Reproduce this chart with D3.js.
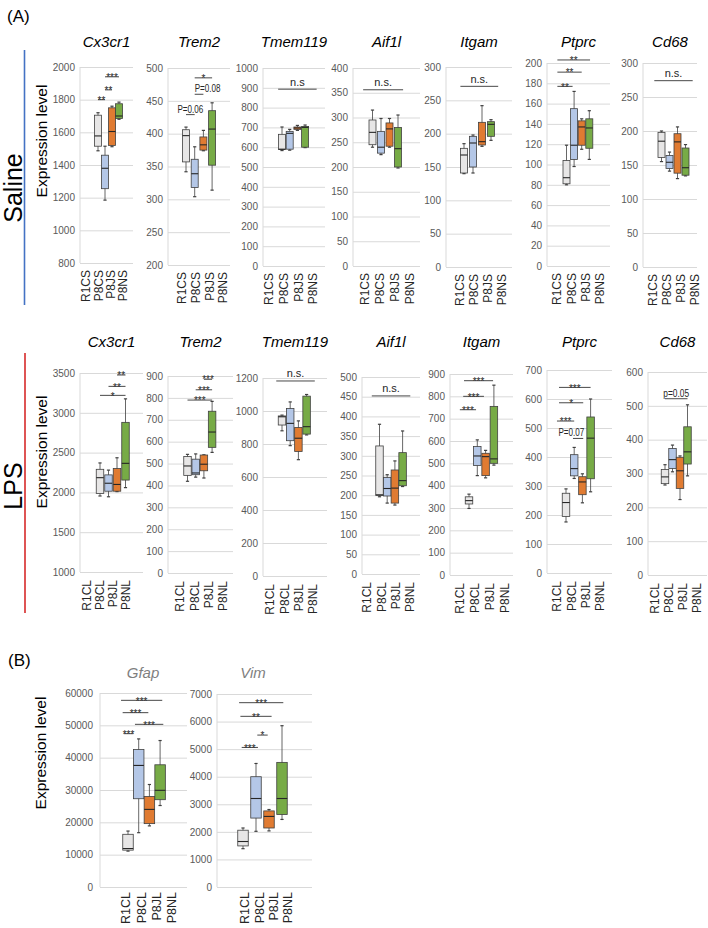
<!DOCTYPE html>
<html>
<head>
<meta charset="utf-8">
<script src="https://cdn.jsdelivr.net/npm/d3@7"></script>
<style>
  body { margin: 0; background: #fff; }
  svg { display: block; font-family: "Liberation Sans", Arial, sans-serif; }
</style>
</head>
<body>
<svg id="fig" width="708" height="928"></svg>
<script>
// ---- data ----
const salineGroups = ["R1CS", "P8CS", "P8JS", "P8NS"];
const lpsGroups = ["R1CL", "P8CL", "P8JL", "P8NL"];
const genesA = ["Cx3cr1", "Trem2", "Tmem119", "Aif1l", "Itgam", "Ptprc", "Cd68"];
const genesB = ["Gfap", "Vim"];

// box stats per group: [min, q1, median, q3, max]
const salineCx3cr1 = [[1487, 1515, 1578, 1705, 1720], [1185, 1255, 1380, 1460, 1515], [1512, 1520, 1605, 1750, 1760], [1680, 1685, 1700, 1775, 1785]];
const salineTrem2 = [[342, 357, 397, 406, 410], [304, 318, 339, 361, 380], [374, 375, 383, 395, 405], [314, 352, 407, 435, 447]];
const salineTmem119 = [[583, 588, 590, 665, 702], [585, 590, 670, 680, 690], [685, 690, 697, 702, 710], [598, 600, 700, 705, 712]];
const salineAif1l = [[240, 245, 270, 295, 315], [225, 228, 240, 272, 298], [240, 242, 277, 289, 298], [198, 200, 237, 280, 305]];
const salineItgam = [[140, 141, 168, 178, 185], [141, 150, 186, 196, 198], [181, 183, 188, 217, 242], [190, 196, 214, 218, 221]];
const salinePtprc = [[80, 81, 87, 104, 119], [98, 105, 119, 155, 172], [115, 119, 137, 143, 145], [105, 116, 136, 145, 153]];
const salineCd68 = [[155, 161, 185, 198, 200], [141, 145, 154, 164, 169], [130, 138, 184, 196, 206], [134, 135, 146, 175, 180]];

const lpsCx3cr1 = [[1955, 1985, 2185, 2290, 2370], [1945, 2015, 2115, 2220, 2280], [2010, 2015, 2100, 2300, 2435], [2060, 2155, 2365, 2880, 3175]];
const lpsTrem2 = [[419, 446, 489, 532, 542], [438, 449, 457, 520, 544], [434, 467, 497, 539, 540], [551, 574, 644, 739, 784]];
const lpsTmem119 = [[880, 915, 965, 970, 975], [790, 820, 925, 1015, 1055], [705, 755, 835, 900, 940], [855, 860, 905, 1090, 1100]];
const lpsAif1l = [[196, 199, 201, 325, 380], [180, 198, 217, 245, 252], [175, 180, 218, 264, 287], [222, 224, 237, 308, 363]];
const lpsItgam = [[298, 318, 333, 350, 362], [445, 490, 533, 575, 605], [435, 445, 530, 545, 558], [492, 500, 520, 755, 850]];
const lpsPtprc = [[176, 195, 243, 275, 290], [326, 335, 360, 408, 433], [242, 270, 314, 332, 342], [280, 325, 465, 538, 600]];
const lpsCd68 = [[266, 270, 290, 312, 326], [305, 315, 341, 374, 384], [223, 256, 308, 348, 352], [293, 328, 364, 438, 503]];

const gfapStats = [[11100, 11400, 11900, 16300, 17300], [16800, 27300, 37600, 42500, 45800], [18900, 19600, 24000, 28000, 31700], [25200, 27000, 29900, 37800, 45300]];
const vimStats = [[1390, 1490, 1650, 2060, 2140], [2020, 2500, 3210, 4000, 4480], [2035, 2140, 2560, 2760, 2810], [2450, 2630, 3210, 4520, 5850]];

// y axis: [min, max, step]
const salineAxes = [[800, 2000, 200], [200, 500, 50], [0, 1000, 100], [0, 400, 50], [0, 300, 50], [0, 200, 20], [0, 300, 50]];
const lpsAxes = [[1000, 3500, 500], [0, 900, 100], [0, 1200, 200], [0, 500, 50], [0, 900, 100], [0, 700, 100], [0, 600, 100]];
const bAxes = [[0, 60000, 10000], [0, 7000, 1000]];

// significance marks: [from group, to group, value, label, anchor]
const salineSig = [
  [[0, 1, 1800, "**"], [1, 2, 1860, "**"], [1, 3, 1940, "***"]],
  [[0, 1, 429, "P=0.06"], [1, 2, 460, "P=0.08", "start"], [1, 3, 485, "*"]],
  [[-0.5, 4.5, 893, "n.s"]],
  [[-1.1, 3.6, 356, "n.s."]],
  [[-0.4, 3.8, 271, "n.s."]],
  [[-1.2, 0.8, 177, "**"], [-1.2, 2, 191, "**"], [-1.2, 3.1, 203, "**"]],
  [[-0.9, 3.9, 274, "n.s."]]
];
const lpsSig = [
  [[0, 3, 3219, "*"], [1, 3, 3332, "**"], [2, 3, 3475, "**"]],
  [[0, 3, 790, "***"], [1, 3, 837, "***"], [2, 3, 885, "***"]],
  [[-0.7, 4, 1182, "n.s."]],
  [[-1, 4, 452, "n.s."]],
  [[-1.1, 0.85, 740, "***"], [-0.7, 1.8, 800, "***"], [-0.6, 2.9, 870, "***"]],
  [[-1.1, 1, 524, "***"], [0.85, 2.1, 464, "P=0.07", "end"], [-0.85, 2.1, 587, "*"], [-0.85, 3, 640, "***"]],
  [[0, 3, 521, "p=0.05"]]
];
const gfapSig = [[-0.4, 0.5, 47420, "***"], [0.65, 3.3, 50310, "***"], [-0.5, 1.9, 53920, "***"], [-0.65, 3.2, 57730, "***"]];
const vimSig = [[-0.1, 1.15, 5062, "***"], [1.1, 1.9, 5510, "*"], [-0.2, 2.2, 6190, "**"], [-0.3, 3.1, 6685, "***"]];

// ---- layout ----
const FONT = '"Liberation Sans", Arial, sans-serif';
const groupColors = ["#e7e6e6", "#b4c7e7", "#e07b32", "#77ab46"];
const lineColor = "#404040";

const salineLayout = {
  x0: [80, 168, 263, 353, 446, 547, 643],
  x1: [133, 230, 325, 420, 512, 610, 697],
  top: [67, 68, 68, 68, 67, 63, 63],
  bottom: [263, 265, 266, 266, 267, 266, 267],
  boxStart: [18, 18, 19, 19.5, 18, 19.5, 18.5],
  boxStep: [7, 8.7, 7.7, 8.5, 9, 7.6, 8],
  labelStart: [6, 14, 6, 12, 14, 10, 10],
  labelStep: [12.3, 13.7, 14.7, 15, 14, 14.3, 14],
  boxW: 7, titleY: 47, labelGap: 7
};
const lpsLayout = {
  x0: [80, 168, 263, 362, 450, 547, 648],
  x1: [143, 233, 327, 420, 513, 612, 707],
  top: [373, 376, 378, 377, 374, 370, 372],
  bottom: [572, 573, 576, 574, 575, 573, 575],
  boxStart: [20, 19.5, 19, 17.5, 19, 19, 17],
  boxStep: [8.5, 8.2, 8.2, 7.7, 8.3, 8.2, 7.5],
  labelStart: [7, 12, 7, 5, 10, 10, 7],
  labelStep: [13, 14.3, 14.3, 14.3, 15, 14.3, 14],
  boxW: 7.5, titleY: 347, labelGap: 8
};
const bLayout = {
  x0: [100, 217],
  x1: [187, 312],
  top: [693, 694],
  bottom: [887, 887],
  boxStart: [28, 26],
  boxStep: [10.7, 13],
  labelStart: [26, 28],
  labelStep: [15.3, 14.3],
  titleX: [143, 253],
  boxW: 10.5, titleY: 678, labelGap: 5
};

const svg = d3.select("#fig");

function drawPanel(L, i, gene, groups, stats, axis, sig, opts) {
  const x0 = L.x0[i], x1 = L.x1[i];
  const y = d3.scaleLinear().domain([axis[0], axis[1]]).range([L.bottom[i], L.top[i]]);
  const xb = d3.scaleLinear().domain([0, 3])
    .range([x0 + L.boxStart[i], x0 + L.boxStart[i] + 3 * L.boxStep[i]]);
  const xl = d3.scalePoint().domain(groups)
    .range([x0 + L.labelStart[i], x0 + L.labelStart[i] + 3 * L.labelStep[i]]);
  const ticks = d3.range(axis[0], axis[1] + axis[2] / 2, axis[2]);

  const g = svg.append("g");

  // gridlines + tick labels
  g.append("g")
    .attr("transform", `translate(${x0},0)`)
    .call(d3.axisLeft(y).tickValues(ticks).tickSize(-(x1 - x0)).tickPadding(opts.tickPad || 5).tickFormat(d3.format("d")))
    .call(a => a.select(".domain").remove())
    .call(a => a.selectAll("line").attr("stroke", "#d9d9d9").attr("stroke-width", 1))
    .call(a => a.selectAll("text").attr("fill", "#595959").attr("font-size", 10).attr("font-family", FONT));

  g.append("line")
    .attr("x1", x0).attr("x2", x0)
    .attr("y1", y(axis[1])).attr("y2", y(axis[0]))
    .attr("stroke", "#d9d9d9");

  // title
  g.append("text")
    .attr("x", L.titleX ? L.titleX[i] : (x0 + x1) / 2)
    .attr("y", L.titleY)
    .attr("text-anchor", "middle")
    .attr("font-style", "italic")
    .attr("font-size", 15)
    .attr("fill", opts.titleColor || "#000")
    .text(gene);

  // category labels
  g.selectAll("text.cat").data(groups).join("text")
    .attr("class", "cat")
    .attr("transform", d => `translate(${xl(d)},${L.bottom[i] + L.labelGap}) rotate(-90)`)
    .attr("text-anchor", "end")
    .attr("dy", "0.35em")
    .attr("font-size", opts.catSize || 12)
    .attr("fill", "#262626")
    .text(d => d);

  // boxes
  const bw = L.boxW;
  const box = g.selectAll("g.box").data(stats).join("g").attr("class", "box");
  box.append("line")
    .attr("x1", (d, k) => xb(k)).attr("x2", (d, k) => xb(k))
    .attr("y1", d => y(d[4])).attr("y2", d => y(d[0]))
    .attr("stroke", lineColor).attr("stroke-width", 0.8);
  [0, 4].forEach(idx => {
    box.append("line")
      .attr("x1", (d, k) => xb(k) - 1.6).attr("x2", (d, k) => xb(k) + 1.6)
      .attr("y1", d => y(d[idx])).attr("y2", d => y(d[idx]))
      .attr("stroke", lineColor).attr("stroke-width", 1.2);
  });
  box.append("rect")
    .attr("x", (d, k) => xb(k) - bw / 2)
    .attr("y", d => y(d[3]))
    .attr("width", bw)
    .attr("height", d => y(d[1]) - y(d[3]))
    .attr("fill", (d, k) => groupColors[k])
    .attr("stroke", lineColor).attr("stroke-width", 0.8);
  box.append("line")
    .attr("x1", (d, k) => xb(k) - bw / 2).attr("x2", (d, k) => xb(k) + bw / 2)
    .attr("y1", d => y(d[2])).attr("y2", d => y(d[2]))
    .attr("stroke", "#262626").attr("stroke-width", 1.1);

  // significance
  sig.forEach(s => {
    const xa = xb(s[0]), xc = xb(s[1]), yy = y(s[2]);
    g.append("line")
      .attr("x1", xa).attr("x2", xc).attr("y1", yy).attr("y2", yy)
      .attr("stroke", "#333").attr("stroke-width", 0.9);
    const lab = s[3];
    const t = g.append("text").attr("fill", "#262626").text(lab);
    if (lab[0] === "*") {
      t.attr("x", (xa + xc) / 2).attr("y", yy + 4.2).attr("text-anchor", "middle").attr("font-size", 10);
    } else if (lab[0] === "n") {
      t.attr("x", (xa + xc) / 2).attr("y", yy - 3.5).attr("text-anchor", "middle").attr("font-size", 11);
    } else {
      const anchor = s[4] || "middle";
      const tx = anchor === "start" ? xa : anchor === "end" ? xc + 1 : (xa + xc) / 2;
      t.attr("x", tx).attr("y", yy - 2).attr("text-anchor", anchor).attr("font-size", 10)
        .attr("textLength", lab.length * 4.3).attr("lengthAdjust", "spacingAndGlyphs");
    }
  });
}

const salineStats = [salineCx3cr1, salineTrem2, salineTmem119, salineAif1l, salineItgam, salinePtprc, salineCd68];
const lpsStats = [lpsCx3cr1, lpsTrem2, lpsTmem119, lpsAif1l, lpsItgam, lpsPtprc, lpsCd68];

genesA.forEach((gene, i) => {
  drawPanel(salineLayout, i, gene, salineGroups, salineStats[i], salineAxes[i], salineSig[i], {});
  drawPanel(lpsLayout, i, gene, lpsGroups, lpsStats[i], lpsAxes[i], lpsSig[i], {});
});
drawPanel(bLayout, 0, genesB[0], lpsGroups, gfapStats, bAxes[0], gfapSig, { titleColor: "#7f7f7f", catSize: 12.5, tickPad: 7 });
drawPanel(bLayout, 1, genesB[1], lpsGroups, vimStats, bAxes[1], vimSig, { titleColor: "#7f7f7f", catSize: 12.5, tickPad: 5 });

// ---- decorations ----
svg.append("text").attr("x", 7).attr("y", 22).attr("font-size", 17).text("(A)");
svg.append("text").attr("x", 8).attr("y", 666).attr("font-size", 17).text("(B)");

svg.append("line").attr("x1", 24.5).attr("x2", 24.5).attr("y1", 50).attr("y2", 305)
  .attr("stroke", "#4472c4").attr("stroke-width", 1.6);
svg.append("line").attr("x1", 25).attr("x2", 25).attr("y1", 353).attr("y2", 613)
  .attr("stroke", "#d62a2a").attr("stroke-width", 1.6);

function vText(x, y, size, str) {
  svg.append("text")
    .attr("transform", `translate(${x},${y}) rotate(-90)`)
    .attr("text-anchor", "middle")
    .attr("dy", "0.35em")
    .attr("font-size", size)
    .attr("fill", "#000")
    .text(str);
}
vText(13, 188, 25, "Saline");
vText(13, 486, 25, "LPS");
vText(42, 141, 15.5, "Expression level");
vText(42, 452, 15.5, "Expression level");
vText(41, 753, 15.5, "Expression level");
</script>
</body>
</html>
